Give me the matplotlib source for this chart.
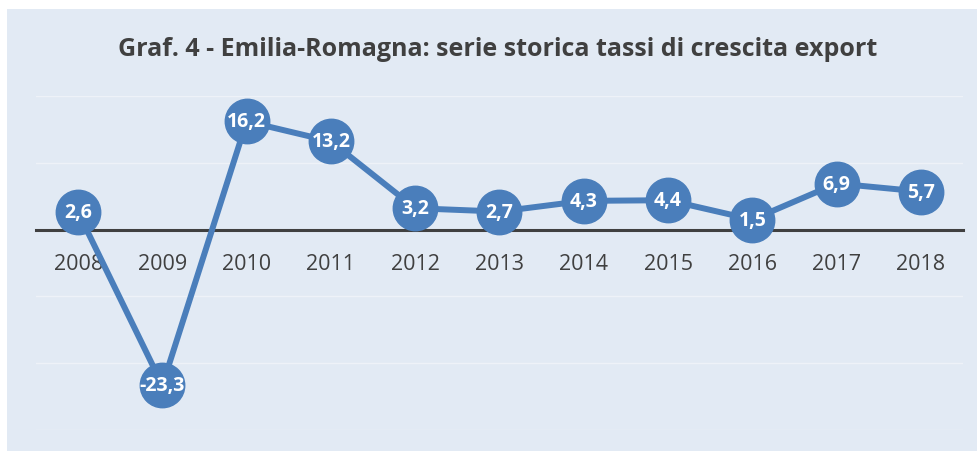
import matplotlib.pyplot as plt
from matplotlib.patches import Rectangle

years  = ['2008', '2009', '2010', '2011', '2012', '2013', '2014', '2015', '2016', '2017', '2018']
growth = [2.6, -23.3, 16.2, 13.2, 3.2, 2.7, 4.3, 4.4, 1.5, 6.9, 5.7]

title = 'Graf. 4 - Emilia-Romagna: serie storica tassi di crescita export'

bg    = '#E2EAF4'
blue  = '#4A7EBB'
dark  = '#404040'

plt.rcParams['font.family'] = ['Open Sans', 'DejaVu Sans']

fig = plt.figure(figsize=(9.78, 4.52), dpi=100)
fig.patch.set_facecolor('white')
# light panel behind the chart (white margin top and left)
fig.patches.append(Rectangle((7 / 978, 0), 1, 1 - 10 / 452, transform=fig.transFigure,
                             facecolor=bg, edgecolor='none', zorder=-10))

ax = fig.add_axes([36 / 978, 21 / 452, 927 / 978, 334 / 452])
ax.set_facecolor('none')

x = list(range(len(years)))
ax.plot(x, growth, color=blue, lw=4.3, marker='o', markersize=32,
        markerfacecolor=blue, markeredgecolor=blue, zorder=3, clip_on=False)

for xi, v in zip(x, growth):
    ax.text(xi, v, f'{v:.1f}'.replace('.', ','), ha='center', va='center',
            color='white', fontsize=14, fontweight='bold', zorder=4)

for s in ['top', 'right', 'left']:
    ax.spines[s].set_visible(False)
ax.spines['bottom'].set_position(('data', 0))
ax.spines['bottom'].set_color(dark)
ax.spines['bottom'].set_linewidth(2.2)
ax.spines['bottom'].set_zorder(2.5)

ax.set_xlim(-0.5, len(years) - 0.5)
ax.set_ylim(-30, 20)
ax.set_yticks([-30, -20, -10, 0, 10, 20])
ax.yaxis.grid(True, color='#EEF2F8', lw=1)
ax.set_axisbelow(True)
ax.tick_params(axis='y', left=False, labelleft=False)

ax.set_xticks(x)
ax.set_xticklabels(years)
ax.tick_params(axis='x', length=0, pad=17, labelsize=15.5, labelcolor=dark)

fig.text(498 / 978, 1 - 50 / 452, title, ha='center', va='center',
         fontsize=18, fontweight='bold', color=dark)

fig.savefig('out.png', dpi=100, facecolor=fig.get_facecolor())
